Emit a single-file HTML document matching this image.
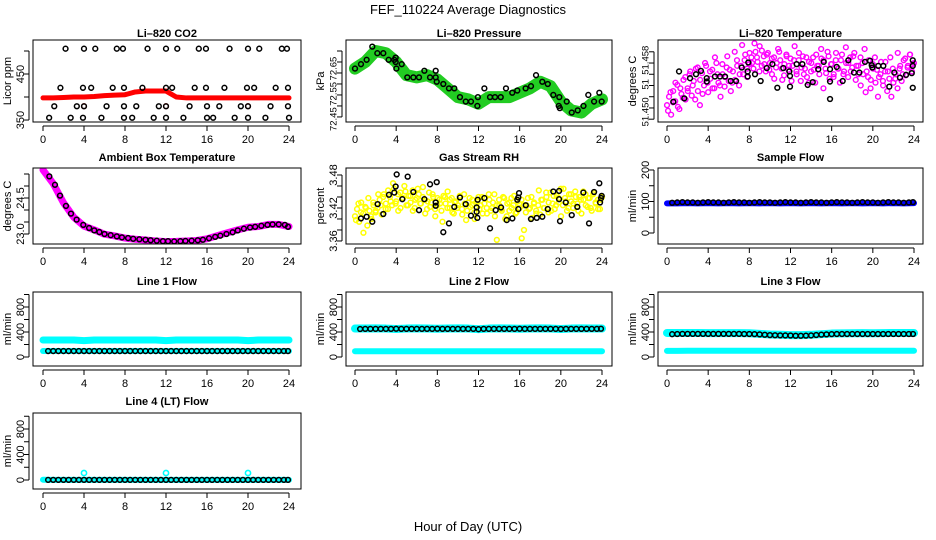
<!DOCTYPE html>
<html><head><meta charset="utf-8"><title>FEF_110224 Average Diagnostics</title>
<style>
html,body{margin:0;padding:0;background:#fff;}
svg{display:block;font-family:"Liberation Sans",Arial,sans-serif;}
</style></head>
<body>
<svg id="chart" width="936" height="540" viewBox="0 0 936 540" xmlns="http://www.w3.org/2000/svg">
<rect x="0" y="0" width="936" height="540" fill="#fff"/>
<text x="468" y="14" text-anchor="middle" font-size="13" fill="#000">FEF_110224  Average Diagnostics</text>
<text x="468" y="531" text-anchor="middle" font-size="13" fill="#000">Hour of Day (UTC)</text>
</svg>
<script>
// ---------- data ----------
const hourTicks = [0,4,8,12,16,20,24];
const hourly = [0,1,2,3,4,5,6,7,8,9,10,11,12,13,14,15,16,17,18,19,20,21,22,23,24];
const halfHours = [0.5,1,1.5,2,2.5,3,3.5,4,4.5,5,5.5,6,6.5,7,7.5,8,8.5,9,9.5,10,10.5,11,11.5,12,12.5,13,13.5,14,14.5,15,15.5,16,16.5,17,17.5,18,18.5,19,19.5,20,20.5,21,21.5,22,22.5,23,23.5,23.9];

// Li-820 CO2
const co2Red = [398,398,399,400,400,401,403,404,405,411,413,413,413,400,398,398,398,398,398,398,398,398,398,398,398];
const co2RedOutHours = [4,12,20];
const co2RedOutVals = [380,380,380];
const co2BlackHours = [2.2,4.0,5.1,7.2,7.8,10.2,12.0,13.1,15.2,15.9,18.2,20.0,21.1,23.3,23.8,
  1.7,3.9,4.7,6.8,7.9,9.7,12.0,12.6,14.8,15.9,17.7,19.9,20.6,22.7,23.9,
  1.1,3.3,4.0,6.2,7.9,9.1,11.3,12.0,14.3,16.0,17.2,19.3,20.0,22.2,23.9,
  0.6,2.7,3.9,5.7,7.9,8.7,10.8,12.0,13.7,16.0,16.6,18.7,20.0,21.7,24.0];
const co2BlackVals = [505,505,505,505,505,505,505,505,505,505,505,505,505,505,505,
  420,420,420,420,420,420,420,420,420,420,420,420,420,420,420,
  380,380,380,380,380,380,380,380,380,380,380,380,380,380,380,
  355,355,355,355,355,355,355,355,355,355,355,355,355,355,355];

// Li-820 Pressure
const presGreen = [72.67,72.70,72.75,72.74,72.70,72.64,72.63,72.64,72.62,72.58,72.54,72.53,72.51,72.54,72.54,72.54,72.56,72.58,72.61,72.59,72.52,72.48,72.47,72.51,72.53];
const presBlackHours = [0.0,0.58,1.13,1.68,2.17,2.75,3.27,3.82,3.95,3.95,4.02,4.54,5.08,5.67,6.22,6.74,7.29,7.84,7.84,7.94,8.58,9.13,9.65,10.2,10.76,11.27,11.89,11.94,12.57,13.12,13.6,14.16,14.67,15.28,15.77,16.58,17.1,17.59,18.2,18.73,19.27,19.85,19.8,19.9,20.57,21.06,21.64,22.2,22.67,23.23,23.74,23.97];
const presBlackVals = [72.67,72.69,72.71,72.77,72.74,72.74,72.71,72.71,72.72,72.70,72.67,72.69,72.63,72.63,72.63,72.66,72.63,72.66,72.63,72.61,72.60,72.58,72.58,72.54,72.52,72.52,72.50,72.54,72.58,72.54,72.54,72.54,72.58,72.56,72.57,72.58,72.59,72.64,72.61,72.60,72.55,72.54,72.50,72.49,72.52,72.47,72.48,72.50,72.55,72.52,72.56,72.52];

// Li-820 Temperature
const tempMagA = [51.4505,51.4520,51.4488,51.4530,51.4512,51.4541,51.4498,51.4525,51.4550,51.4515,51.4535,
  51.4560,51.4522,51.4548,51.4570,51.4530,51.4505,51.4562,51.4540,51.4575,51.4528,
  51.4552,51.4568,51.4535,51.4580,51.4545,51.4520,51.4560,51.4538,51.4572,51.4548,
  51.4530,51.4565,51.4550,51.4585,51.4540,51.4575,51.4560,51.4595,51.4555,51.4578,
  51.4590,51.4570,51.4600,51.4582,51.4610,51.4575,51.4592,51.4565,51.4598,51.4580,
  51.4560,51.4590,51.4572,51.4605,51.4585,51.4550,51.4578,51.4595,51.4568,51.4588,
  51.4575,51.4610,51.4560,51.4585,51.4548,51.4592,51.4570,51.4555,51.4582,51.4565,
  51.4590,51.4545,51.4575,51.4560,51.4588,51.4535,51.4570,51.4600,51.4552,51.4578,
  51.4560,51.4585,51.4570,51.4545,51.4595,51.4565,51.4580,51.4555,51.4590,51.4572,
  51.4598,51.4575,51.4560,51.4590,51.4580,51.4605,51.4565,51.4585,51.4550,51.4578,
  51.4590,51.4568,51.4555,51.4582,51.4540,51.4565,51.4530,51.4552,51.4520,51.4545,
  51.4560,51.4535,51.4570,51.4548,51.4585,51.4558,51.4575,51.4595,51.4565,51.4580];
const tempMagB = [51.4495,51.4528,51.4510,51.4545,51.4502,51.4535,51.4518,51.4555,51.4530,51.4565,
  51.4540,51.4515,51.4572,51.4550,51.4525,51.4580,51.4545,51.4565,51.4535,51.4590,
  51.4560,51.4540,51.4578,51.4555,51.4592,51.4568,51.4545,51.4600,51.4575,51.4560,
  51.4612,51.4585,51.4570,51.4598,51.4580,51.4615,51.4590,51.4565,51.4602,51.4578,
  51.4595,51.4568,51.4588,51.4552,51.4580,51.4600,51.4570,51.4558,51.4592,51.4575,
  51.4548,51.4585,51.4565,51.4598,51.4572,51.4560,51.4590,51.4545,51.4580,51.4568,
  51.4595,51.4575,51.4605,51.4585,51.4562,51.4592,51.4578,51.4555,51.4598,51.4570,
  51.4585,51.4560,51.4608,51.4580,51.4565,51.4592,51.4550,51.4575,51.4540,51.4560,
  51.4528,51.4555,51.4535,51.4570,51.4545,51.4520,51.4560,51.4548,51.4582,51.4565,
  51.4590,51.4570,51.4552,51.4598,51.4575,51.4560,51.4588,51.4572,51.4595,51.4578];
const tempBlackHours = [0.62,1.17,1.68,2.24,2.82,3.30,3.86,3.86,4.66,5.15,5.64,6.19,6.71,7.26,7.84,7.84,7.9,8.55,9.1,9.69,10.24,10.72,11.3,11.89,11.95,11.95,12.6,13.15,13.67,14.16,14.7,15.23,15.84,15.84,15.84,16.49,17.07,17.62,18.17,18.69,19.24,19.73,19.89,19.95,20.53,21.02,21.6,22.09,22.64,23.23,23.78,23.88,23.88,23.88];
const tempBlackVals = [51.4511,51.4565,51.4517,51.4553,51.4560,51.4566,51.4553,51.4547,51.4556,51.4556,51.4556,51.4548,51.4548,51.4572,51.4565,51.4556,51.4581,51.4560,51.4548,51.4571,51.4578,51.4536,51.4571,51.4565,51.4557,51.4538,51.4578,51.4578,51.4541,51.4546,51.4569,51.4582,51.4516,51.4547,51.4569,51.4573,51.4548,51.4585,51.4563,51.4563,51.4582,51.4584,51.4576,51.4572,51.4575,51.4575,51.4538,51.4563,51.4554,51.4559,51.4562,51.4585,51.4536,51.4575];

// Ambient Box Temperature
const ambMag = [25.67,25.10,24.30,23.70,23.33,23.17,22.99,22.92,22.83,22.78,22.75,22.71,22.68,22.69,22.71,22.73,22.80,22.93,23.05,23.17,23.28,23.31,23.40,23.40,23.31];
const ambBlackHours = [0.62,1.17,1.66,2.24,2.73,3.28,3.93,4.5,5.0,5.5,6.0,6.6,7.2,7.7,8.3,8.8,9.4,10.0,10.5,11.1,11.7,12.2,12.8,13.4,13.9,14.5,15.1,15.6,16.2,16.8,17.3,17.9,18.5,19.0,19.6,20.2,20.7,21.3,21.9,22.4,23.0,23.6,23.9];
const ambBlackVals = [25.40,25.05,24.60,24.17,23.85,23.60,23.38,23.25,23.15,23.08,23.00,22.95,22.90,22.86,22.83,22.80,22.78,22.76,22.74,22.72,22.70,22.70,22.69,22.70,22.71,22.72,22.74,22.76,22.82,22.88,22.93,23.00,23.07,23.15,23.22,23.27,23.30,23.34,23.38,23.40,23.40,23.38,23.30];

// Gas Stream RH
const rhYelA = [3.405,3.418,3.395,3.430,3.410,3.422,3.388,3.415,3.400,3.425,3.412,
  3.420,3.435,3.408,3.445,3.428,3.418,3.440,3.425,3.455,3.432,
  3.415,3.448,3.438,3.460,3.425,3.442,3.430,3.452,3.420,3.438,
  3.445,3.428,3.458,3.435,3.418,3.448,3.430,3.440,3.405,3.425,
  3.435,3.415,3.442,3.428,3.450,3.420,3.438,3.410,3.432,3.425,
  3.440,3.418,3.445,3.398,3.430,3.422,3.435,3.412,3.428,3.440,
  3.425,3.410,3.438,3.420,3.445,3.415,3.430,3.405,3.425,3.435,
  3.418,3.440,3.400,3.428,3.415,3.438,3.425,3.410,3.432,3.420,
  3.365,3.425,3.412,3.438,3.420,3.402,3.430,3.415,3.425,3.408,
  3.435,3.420,3.440,3.412,3.448,3.428,3.418,3.442,3.430,3.455,
  3.425,3.438,3.415,3.445,3.432,3.420,3.450,3.428,3.440,3.410,
  3.435,3.445,3.422,3.438,3.415,3.448,3.428,3.435,3.418,3.440];
const rhYelB = [3.398,3.428,3.412,3.375,3.420,3.438,3.405,3.430,3.415,3.445,
  3.425,3.440,3.418,3.452,3.432,3.465,3.428,3.445,3.420,3.438,
  3.450,3.425,3.442,3.415,3.435,3.455,3.428,3.440,3.410,3.432,
  3.422,3.445,3.418,3.438,3.428,3.395,3.440,3.420,3.435,3.412,
  3.430,3.420,3.442,3.408,3.428,3.415,3.438,3.425,3.400,3.432,
  3.418,3.440,3.428,3.410,3.435,3.420,3.445,3.362,3.425,3.415,
  3.438,3.405,3.430,3.420,3.442,3.412,3.428,3.435,3.380,3.425,
  3.418,3.440,3.428,3.410,3.452,3.435,3.420,3.448,3.430,3.415,
  3.442,3.425,3.438,3.405,3.455,3.432,3.420,3.445,3.428,3.440,
  3.415,3.435,3.450,3.425,3.438,3.420,3.445,3.430,3.418,3.435];
const rhBlackHours = [0.58,1.13,1.68,2.2,2.75,3.3,3.82,3.95,4.05,4.6,5.12,5.67,6.22,6.74,7.29,7.84,7.84,7.94,8.58,9.13,9.65,10.2,10.76,11.27,11.82,11.82,11.89,11.92,12.57,13.12,13.67,14.19,14.74,15.29,15.77,15.87,15.87,15.94,16.59,17.1,17.66,18.2,18.73,19.27,19.83,19.83,19.92,20.48,21.06,21.6,22.19,22.74,23.23,23.74,23.81,23.91,23.97];
const rhBlackVals = [3.401,3.404,3.395,3.427,3.409,3.444,3.448,3.459,3.481,3.436,3.477,3.449,3.416,3.436,3.463,3.430,3.424,3.467,3.376,3.392,3.422,3.439,3.427,3.406,3.421,3.413,3.402,3.435,3.438,3.383,3.416,3.421,3.398,3.401,3.435,3.439,3.418,3.447,3.425,3.400,3.402,3.404,3.418,3.450,3.436,3.451,3.396,3.430,3.407,3.422,3.448,3.392,3.449,3.465,3.430,3.438,3.442];

// Sample Flow
const sampleBlue = [94,94,95,94,95,94,95,94,95,94,95,94,95,94,95,94,95,94,95,94,95,94,95,94,95];
const sampleBlack = [96,97,98,97,97,96,97,98,97,97,96,97,98,97,97,96,97,98,97,97,96,97,98,97,97,96,97,98,97,97,96,97,98,97,97,96,97,98,97,97,96,97,98,97,97,96,97,98];

// Line 1 Flow
const line1CyanHigh = [272,272,272,272,262,272,272,272,272,272,272,272,262,272,272,272,272,272,272,272,262,272,272,272,272];
const line1CyanLow = [95,95,95,95,95,95,95,95,95,95,95,95,95,95,95,95,95,95,95,95,95,95,95,95,95];
const line1Black = [95,95,95,95,95,95,95,95,95,95,95,95,95,95,95,95,95,95,95,95,95,95,95,95,95,95,95,95,95,95,95,95,95,95,95,95,95,95,95,95,95,95,95,95,95,95,95,95];

// Line 2 Flow
const line2CyanHigh = [455,455,458,455,448,455,458,455,452,455,458,455,445,455,458,455,452,455,458,455,448,455,458,455,455];
const line2CyanLow = [92,92,92,92,92,92,92,92,92,92,92,92,92,92,92,92,92,92,92,92,92,92,92,92,92];
const line2Black = [448,450,450,450,450,450,450,452,450,450,450,450,450,450,450,452,450,450,450,450,450,450,450,445,450,450,450,450,450,450,450,452,450,450,450,450,450,450,450,448,450,450,450,450,450,450,450,452];

// Line 3 Flow
const line3CyanHigh = [385,385,385,385,382,382,382,382,380,370,360,355,350,350,355,365,375,378,380,382,380,382,384,384,384];
const line3CyanLow = [98,98,100,100,100,100,100,100,100,100,100,100,100,100,100,100,100,100,100,100,100,100,100,100,100];
const line3Black = [365,368,370,370,370,370,370,370,370,370,370,370,370,370,368,368,366,362,356,350,348,346,345,344,340,340,342,345,352,358,362,366,368,368,368,368,368,368,368,368,368,368,368,368,368,368,368,368];

// Line 4 (LT) Flow
const line4Cyan = [5,2,2,2,2,2,2,2,2,2,2,2,2,2,2,2,2,2,2,2,2,2,2,2,2];
const line4CyanOutHours = [4,12,20];
const line4CyanOutVals = [110,110,110];
const line4Black = [2,2,2,2,2,2,2,2,2,2,2,2,2,2,2,2,2,2,2,2,2,2,2,2,2,2,2,2,2,2,2,2,2,2,2,2,2,2,2,2,2,2,2,2,2,2,2,2];

// ---------- drawing ----------
const NS = 'http://www.w3.org/2000/svg';
const svg = document.getElementById('chart');
function el(tag, attrs, parent) {
  const e = document.createElementNS(NS, tag);
  for (const k in attrs) e.setAttribute(k, attrs[k]);
  (parent || svg).appendChild(e);
  return e;
}
const COLS = [{l:33,r:301,x0:43,x24:289},{l:346,r:612,x0:355,x24:602},{l:658,r:923,x0:667,x24:914}];
const ROWS = [{t:40,b:122,tt:37},{t:168,b:244,tt:161},{t:292,b:366,tt:285},{t:413,b:489,tt:405}];
let clipId = 0;
function makePanel(cfg) {
  const c = COLS[cfg.col], r = ROWS[cfg.row];
  const g = el('g', {});
  
  
  const sx = h => c.x0 + h * (c.x24 - c.x0) / 24;
  const sy = v => r.b - (v - cfg.ymin) / (cfg.ymax - cfg.ymin) * (r.b - r.t);
  const title = el('text', {x:(c.l + c.r) / 2, y:r.tt, 'text-anchor':'middle', 'font-size':11, 'font-weight':'bold'}, g);
  title.textContent = cfg.title;
  
  
  const xa = el('g', {}, g);
  
  
  el('line', {x1:sx(0), x2:sx(24), y1:r.b + 4, y2:r.b + 4, stroke:'#000', 'stroke-width':1}, xa);
  hourTicks.forEach(h => {
    el('line', {x1:sx(h), x2:sx(h), y1:r.b + 4, y2:r.b + 9, stroke:'#000', 'stroke-width':1}, xa);
    const t = el('text', {x:sx(h), y:r.b + 21, 'text-anchor':'middle', 'font-size':11}, xa);
    t.textContent = h;
    
    
  });
  const ya = el('g', {}, g);
  
  
  const tk = cfg.ticks;
  el('line', {x1:c.l - 4, x2:c.l - 4, y1:sy(tk[0]), y2:sy(tk[tk.length - 1]), stroke:'#000', 'stroke-width':1}, ya);
  tk.forEach(v => el('line', {x1:c.l - 9, x2:c.l - 4, y1:sy(v), y2:sy(v), stroke:'#000', 'stroke-width':1}, ya));
  const fs = cfg.labelSize || 11;
  cfg.labels.forEach((lab, i) => {
    const y = sy(cfg.labelVals[i]);
    const x = c.l - 13;
    const t = el('text', {x:x, y:y, 'text-anchor':'middle', 'font-size':fs, transform:'rotate(-90 ' + x + ' ' + y + ')', dy:'0.35em'}, ya);
    t.textContent = lab;
    
    
  });
  const yx = c.l - 26, yy = (r.t + r.b) / 2;
  const yt = el('text', {x:yx, y:yy, 'text-anchor':'middle', 'font-size':11, transform:'rotate(-90 ' + yx + ' ' + yy + ')', dy:'0.35em'}, ya);
  yt.textContent = cfg.ylab;
  
  
  const cid = 'clip' + (clipId++);
  const cp = el('clipPath', {id:cid}, g);
  el('rect', {x:c.l, y:r.t, width:c.r - c.l, height:r.b - r.t}, cp);
  const pg = el('g', {'clip-path':'url(#' + cid + ')'}, g);
  
  
  const box = el('rect', {x:c.l, y:r.t, width:c.r - c.l, height:r.b - r.t, fill:'none', stroke:'#000', 'stroke-width':1}, g);
  
  
  return {sx, sy, pg, box, g};
}
function points(p, hours, vals, color, name, rr, sw) {
  const grp = el('g', {}, p.pg);
  
  
  vals.forEach((v, i) => {
    const c = el('circle', {cx:p.sx(hours[i]).toFixed(2), cy:p.sy(v).toFixed(2), r:rr || 2.4, fill:'none', stroke:color, 'stroke-width':sw || 1.3}, grp);
    
    
  });
}
function band(p, hours, vals, color, width, name) {
  const d = vals.map((v, i) => p.sx(hours[i]).toFixed(2) + ',' + p.sy(v).toFixed(2)).join(' ');
  const pl = el('polyline', {points:d, fill:'none', stroke:color, 'stroke-width':width, 'stroke-linejoin':'round', 'stroke-linecap':'round'}, p.pg);
  
  
}
const idxHours = (n, start, step) => Array.from({length:n}, (_, i) => start + i * step);

let p = makePanel({name:'co2', col:0, row:0, title:'Li\u2013820 CO2', ylab:'Licor ppm', ymin:345.7, ymax:523.9, ticks:[350,400,450,500], labels:['350','450'], labelVals:[350,450]});
band(p, hourly, co2Red, '#ff0000', 5, 'co2-red-series');
points(p, co2RedOutHours, co2RedOutVals, '#ff0000', 'co2-red-outliers');
points(p, co2BlackHours, co2BlackVals, '#000', 'co2-hourly-average', 2.4, 1.5);

p = makePanel({name:'pressure', col:1, row:0, title:'Li\u2013820 Pressure', ylab:'kPa', ymin:72.427, ymax:72.80, ticks:[72.45,72.50,72.55,72.60,72.65,72.70,72.75], labels:['72.45','72.55','72.65'], labelVals:[72.44,72.555,72.67], labelSize:9.5});
band(p, hourly, presGreen, '#22cc22', 12, 'pressure-green-series');
points(p, presBlackHours, presBlackVals, '#000', 'pressure-average', 2.4, 1.5);

p = makePanel({name:'licor-temp', col:2, row:0, title:'Li\u2013820 Temperature', ylab:'degrees C', ymin:51.4475, ymax:51.4621, ticks:[51.448,51.450,51.452,51.454,51.456,51.458,51.460], labels:['51.450','51','51.458'], labelVals:[51.4493,51.4542,51.4585], labelSize:9.5});
points(p, idxHours(tempMagA.length, 0, 0.2), tempMagA, '#ff00ff', 'licor-temp-magenta', 2.4, 1.4);
points(p, idxHours(tempMagB.length, 0.1, 0.24), tempMagB, '#ff00ff', 'licor-temp-magenta-b', 2.4, 1.4);
points(p, tempBlackHours, tempBlackVals, '#000', 'licor-temp-average', 2.4, 1.5);

p = makePanel({name:'ambient-temp', col:0, row:1, title:'Ambient Box Temperature', ylab:'degrees C', ymin:22.583, ymax:25.75, ticks:[23.0,23.5,24.0,24.5,25.0,25.5], labels:['23.0','24.5'], labelVals:[23.0,24.5]});
band(p, hourly, ambMag, '#ff00ff', 7, 'ambient-magenta-series');
points(p, ambBlackHours, ambBlackVals, '#000', 'ambient-average', 2.4, 1.5);

p = makePanel({name:'gas-rh', col:1, row:1, title:'Gas Stream RH', ylab:'percent', ymin:3.3545, ymax:3.4927, ticks:[3.36,3.38,3.40,3.42,3.44,3.46,3.48], labels:['3.36','3.42','3.48'], labelVals:[3.36,3.42,3.48]});
points(p, idxHours(rhYelA.length, 0, 0.2), rhYelA, '#ffff00', 'gas-rh-yellow', 2.4, 1.5);
points(p, idxHours(rhYelB.length, 0.1, 0.24), rhYelB, '#ffff00', 'gas-rh-yellow-b', 2.4, 1.5);
points(p, rhBlackHours, rhBlackVals, '#000', 'gas-rh-average', 2.4, 1.5);

p = makePanel({name:'sample-flow', col:2, row:1, title:'Sample Flow', ylab:'ml/min', ymin:-34.9, ymax:206.3, ticks:[0,50,100,150,200], labels:['0','100','200'], labelVals:[0,100,200]});
band(p, hourly, sampleBlue, '#0000ff', 6, 'sample-flow-blue-series');
points(p, halfHours, sampleBlack, '#000', 'sample-flow-average', 2.4, 1.5);

const flowCfg = {ymin:-144, ymax:1040, ticks:[0,200,400,600,800,1000], labels:['0','400','800'], labelVals:[0,400,800], ylab:'ml/min'};
p = makePanel(Object.assign({name:'line1-flow', col:0, row:2, title:'Line 1 Flow'}, flowCfg));
band(p, hourly, line1CyanHigh, '#00ffff', 7, 'line1-cyan-high');
band(p, hourly, line1CyanLow, '#00ffff', 6, 'line1-cyan-low');
points(p, halfHours, line1Black, '#000', 'line1-average', 2.4, 1.5);

p = makePanel(Object.assign({name:'line2-flow', col:1, row:2, title:'Line 2 Flow'}, flowCfg));
band(p, hourly, line2CyanHigh, '#00ffff', 8, 'line2-cyan-high');
band(p, hourly, line2CyanLow, '#00ffff', 6, 'line2-cyan-low');
points(p, halfHours, line2Black, '#000', 'line2-average', 2.4, 1.5);

p = makePanel(Object.assign({name:'line3-flow', col:2, row:2, title:'Line 3 Flow'}, flowCfg));
band(p, hourly, line3CyanHigh, '#00ffff', 8, 'line3-cyan-high');
band(p, hourly, line3CyanLow, '#00ffff', 6, 'line3-cyan-low');
points(p, halfHours, line3Black, '#000', 'line3-average', 2.4, 1.5);

p = makePanel({name:'line4-flow', col:0, row:3, title:'Line 4 (LT) Flow', ylab:'ml/min', ymin:-141, ymax:1051, ticks:[0,200,400,600,800,1000], labels:['0','400','800'], labelVals:[0,400,800]});
band(p, hourly, line4Cyan, '#00ffff', 6, 'line4-cyan-series');
points(p, line4CyanOutHours, line4CyanOutVals, '#00ffff', 'line4-cyan-outliers', 2.6, 1.6);
points(p, halfHours, line4Black, '#000', 'line4-average', 2.4, 1.5);
</script>
</body></html>
